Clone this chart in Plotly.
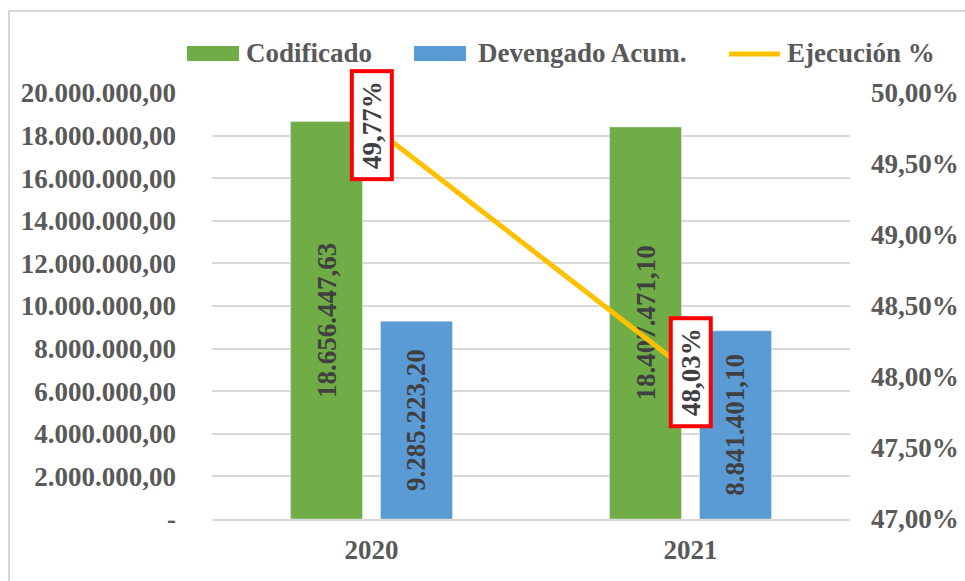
import plotly.graph_objects as go

# ---- data ----
years = ["2020", "2021"]
codificado = [18656447.63, 18407471.10]
devengado = [9285223.20, 8841401.10]
ejecucion = [49.77, 48.03]          # percent
series_names = ["Codificado", "Devengado Acum.", "Ejecución %"]

left_tickvals = [0, 2e6, 4e6, 6e6, 8e6, 10e6, 12e6, 14e6, 16e6, 18e6, 20e6]
left_ticktext = ["-", "2.000.000,00", "4.000.000,00", "6.000.000,00", "8.000.000,00",
                 "10.000.000,00", "12.000.000,00", "14.000.000,00", "16.000.000,00",
                 "18.000.000,00", "20.000.000,00"]
right_tickvals = [47.0, 47.5, 48.0, 48.5, 49.0, 49.5, 50.0]
right_ticktext = ["47,00%", "47,50%", "48,00%", "48,50%", "49,00%", "49,50%", "50,00%"]

# ---- styles ----
FONT = "Liberation Serif"
GREEN = "#70AD47"
BLUE = "#5B9BD5"
GOLD = "#FFC000"
TXT = "#595959"
LBL = "#404040"
GRID = "#D9D9D9"

fig = go.Figure()
fig.add_trace(go.Bar(
    x=years, y=codificado, name=series_names[0], marker_color=GREEN,
    texttemplate="%{y:,.2f}", textposition="inside", insidetextanchor="middle",
    textangle=-90, constraintext="none",
    textfont=dict(family=FONT, size=27, color=LBL, weight="bold"),
    showlegend=False,
))
fig.add_trace(go.Bar(
    x=years, y=devengado, name=series_names[1], marker_color=BLUE,
    texttemplate="%{y:,.2f}", textposition="inside", insidetextanchor="middle",
    textangle=-90, constraintext="none",
    textfont=dict(family=FONT, size=27, color=LBL, weight="bold"),
    showlegend=False,
))
fig.add_trace(go.Scatter(
    x=years, y=ejecucion, name=series_names[2], yaxis="y2", mode="lines",
    line=dict(color=GOLD, width=5), showlegend=False,
))

# percent labels (boxed) — x given as category index
annotations = []
for i, v in enumerate(ejecucion):
    annotations.append(dict(
        x=i, y=v, xref="x", yref="y2",
        text=f"{v:.2f}".replace(".", ",") + "%",
        showarrow=False, textangle=-90, xanchor="center", yanchor="middle",
        font=dict(family=FONT, size=27, color=LBL, weight="bold"),
        bgcolor="white", bordercolor="#FF0000", borderwidth=4, borderpad=3,
        width=98, height=30,
    ))

# manual legend (screen px -> paper; plot area spans x 212..850, y 93..519)
def px_x(p):
    return (p - 212) / 638.0

def px_y(p):
    return (519 - p) / 426.0

shapes = [
    dict(type="rect", xref="paper", yref="paper", x0=px_x(187), x1=px_x(239),
         y0=px_y(61), y1=px_y(46), fillcolor=GREEN, line=dict(width=0)),
    dict(type="rect", xref="paper", yref="paper", x0=px_x(414), x1=px_x(466),
         y0=px_y(61), y1=px_y(46), fillcolor=BLUE, line=dict(width=0)),
    dict(type="line", xref="paper", yref="paper", x0=px_x(729), x1=px_x(780),
         y0=px_y(54), y1=px_y(54), line=dict(color=GOLD, width=5)),
    # outer chart border
    dict(type="rect", xref="paper", yref="paper", x0=px_x(9), x1=px_x(990),
         y0=px_y(600), y1=px_y(11), line=dict(color=GRID, width=2),
         fillcolor="rgba(0,0,0,0)", layer="below"),
]
for name, xl in zip(series_names, [244, 476, 785]):
    annotations.append(dict(
        x=px_x(xl), y=px_y(53.5), xref="paper", yref="paper", text=name,
        showarrow=False, xanchor="left", yanchor="middle",
        font=dict(family=FONT, size=27, color=TXT, weight="bold"),
    ))

fig.update_layout(
    width=965, height=581,
    margin=dict(l=212, r=115, t=93, b=62),
    paper_bgcolor="white", plot_bgcolor="white",
    separators=",.",
    barmode="group", bargap=0.436, bargroupgap=0.2,
    font=dict(family=FONT, size=27, color=TXT, weight="bold"),
    xaxis=dict(type="category", range=[-0.5, 1.5], showline=True, linecolor=GRID,
               linewidth=2, ticks="", automargin=False,
               tickfont=dict(family=FONT, size=27, color=TXT, weight="bold"),
               ticklabelstandoff=6),
    yaxis=dict(range=[0, 20e6], tickvals=left_tickvals, ticktext=left_ticktext,
               showgrid=True, gridcolor=GRID, gridwidth=1.5, zeroline=False,
               automargin=False,
               tickfont=dict(family=FONT, size=27, color=TXT, weight="bold"),
               ticklabelstandoff=35),
    yaxis2=dict(range=[47, 50], tickvals=right_tickvals, ticktext=right_ticktext,
                overlaying="y", side="right", showgrid=False, zeroline=False,
                automargin=False,
                tickfont=dict(family=FONT, size=27, color=TXT, weight="bold"),
                ticklabelstandoff=20),
    annotations=annotations,
    shapes=shapes,
)

fig.write_html(
    "out.html",
    config={"displayModeBar": False},
    post_script="document.body.style.margin='0';document.body.style.overflow='hidden';",
)
